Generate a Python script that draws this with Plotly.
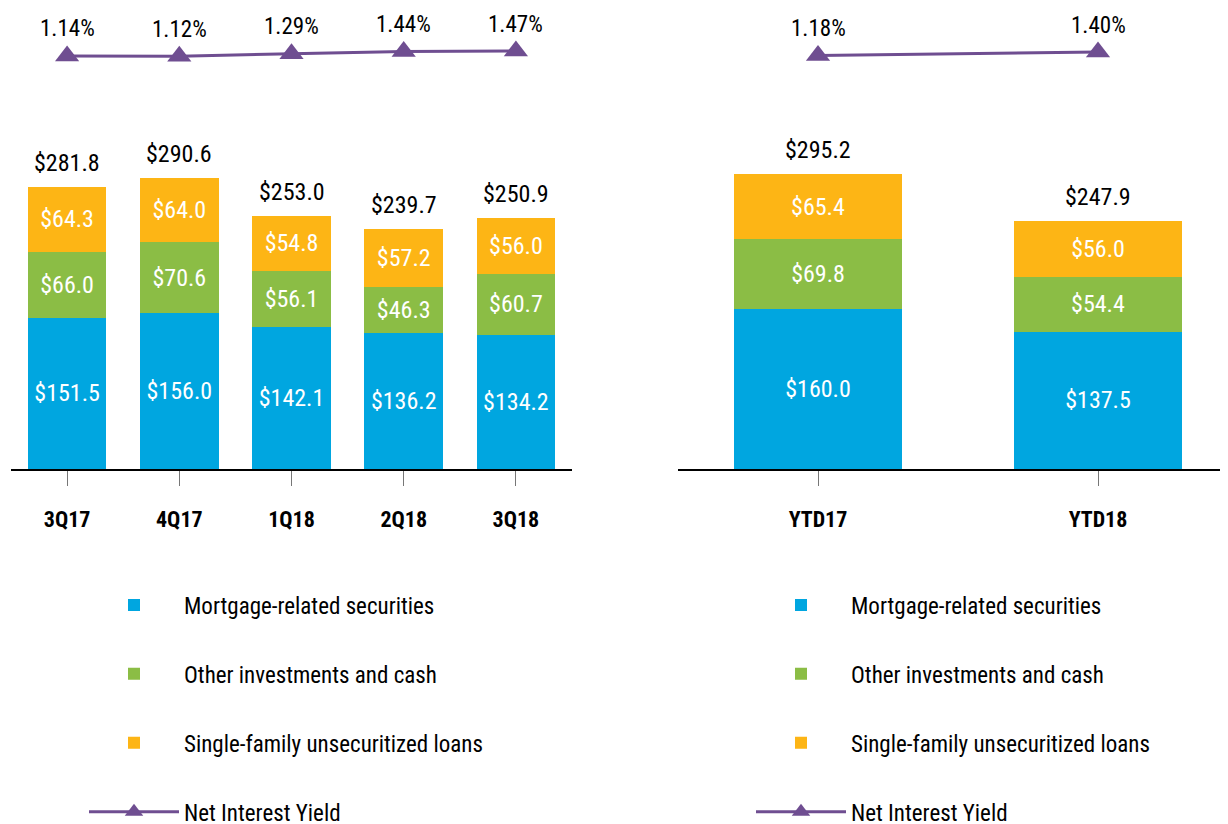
import plotly.graph_objects as go

# ---------------- data ----------------
quarters = ["3Q17", "4Q17", "1Q18", "2Q18", "3Q18"]
q_mortgage = [151.5, 156.0, 142.1, 136.2, 134.2]
q_other = [66.0, 70.6, 56.1, 46.3, 60.7]
q_single = [64.3, 64.0, 54.8, 57.2, 56.0]
q_total = [281.8, 290.6, 253.0, 239.7, 250.9]
q_yield = [1.14, 1.12, 1.29, 1.44, 1.47]

years = ["YTD17", "YTD18"]
y_mortgage = [160.0, 137.5]
y_other = [69.8, 54.4]
y_single = [65.4, 56.0]
y_total = [295.2, 247.9]
y_yield = [1.18, 1.40]

series_names = ["Mortgage-related securities", "Other investments and cash",
                "Single-family unsecuritized loans", "Net Interest Yield"]
colors = ["#00A6E0", "#8BBD45", "#FDB515", "#6F4E91"]

FONT = "Liberation Sans Narrow, Arial Narrow, Roboto Condensed, DejaVu Sans Condensed, Roboto, sans-serif"
W, H = 1228, 824
OFF = 8  # page body margin


def fy(p):
    return (H - (p - OFF)) / H


def fx(p):
    return (p - OFF) / W


fig = go.Figure()


def add_block(cats, stacks, yields, totals, xa, ya_bar, ya_line, legend, bw):
    for i, vals in enumerate(stacks):
        fig.add_trace(go.Bar(
            x=cats, y=vals, name=series_names[i], width=bw,
            marker=dict(color=colors[i], line=dict(width=0)),
            text=[f"${v:.1f}" for v in vals], textposition="inside", insidetextanchor="middle",
            textfont=dict(color="white", size=24, family=FONT), constraintext="none",
            xaxis=xa, yaxis=ya_bar, legend=legend, legendgroup=legend + str(i), hoverinfo="skip"))
    fig.add_trace(go.Scatter(
        x=cats, y=yields, name=series_names[3], mode="lines+markers",
        line=dict(color=colors[3], width=3),
        marker=dict(symbol="triangle-up", size=21, color=colors[3]),
        xaxis=xa, yaxis=ya_line, legend=legend, legendgroup=legend + "3", hoverinfo="skip"))
    for c, t in zip(cats, totals):
        fig.add_annotation(x=c, y=t, xref=xa, yref=ya_bar, text=f"${t:.1f}", showarrow=False,
                           yanchor="middle", yshift=24, font=dict(size=24, color="black", family=FONT))
    for c, v in zip(cats, yields):
        fig.add_annotation(x=c, y=v, xref=xa, yref=ya_line, text=f"{v:.2f}%", showarrow=False,
                           yanchor="middle", yshift=27, font=dict(size=23, color="black", family=FONT))


add_block(quarters, [q_mortgage, q_other, q_single], q_yield, q_total, "x", "y", "y2", "legend", 0.7)
add_block(years, [y_mortgage, y_other, y_single], y_yield, y_total, "x2", "y3", "y4", "legend2", 0.6)

bar_dom = [fy(469), fy(169)]
line_dom = [fy(100), fy(20)]
# 15 px per percentage point, 1.14% sitting at page y = 56
line_lo = 1.14 - (100 - 56) / 15
line_rng = [line_lo, line_lo + 80 / 15]

xcommon = dict(type="category", showline=True, linecolor="black", linewidth=2, ticks="outside",
               ticklen=15, tickcolor="#777777", tickwidth=1, showgrid=False, zeroline=False,
               tickfont=dict(size=22, color="black", family=FONT, weight="bold"),
               ticklabelstandoff=15, fixedrange=True)
yhidden = dict(showgrid=False, zeroline=False, showline=False, showticklabels=False, ticks="", fixedrange=True)

legcommon = dict(font=dict(size=23, color="black", family=FONT), itemwidth=90, tracegroupgap=36,
                 traceorder="grouped", bgcolor="rgba(0,0,0,0)", xanchor="left", yanchor="top",
                 orientation="v")

right_start = fx(678)
right_span_px = W - (678 - OFF)

fig.update_layout(
    width=W, height=H, margin=dict(l=0, r=0, t=0, b=0, autoexpand=False),
    paper_bgcolor="white", plot_bgcolor="white", barmode="stack", bargap=0.3,
    font=dict(family=FONT, color="black"),
    xaxis=dict(xcommon, domain=[fx(11), fx(572)], range=[-0.5, 4.5], anchor="y"),
    xaxis2=dict(xcommon, domain=[right_start, 1.0], range=[-0.5, -0.5 + right_span_px / 280], anchor="y3"),
    yaxis=dict(yhidden, domain=bar_dom, range=[0, 300], anchor="x"),
    yaxis2=dict(yhidden, domain=line_dom, range=line_rng, anchor="x"),
    yaxis3=dict(yhidden, domain=bar_dom, range=[0, 300], anchor="x2"),
    yaxis4=dict(yhidden, domain=line_dom, range=line_rng, anchor="x2"),
    legend=dict(legcommon, x=fx(84), y=fy(583.5)),
    legend2=dict(legcommon, x=fx(751), y=fy(583.5)),
)

fig.write_html("out.html")
